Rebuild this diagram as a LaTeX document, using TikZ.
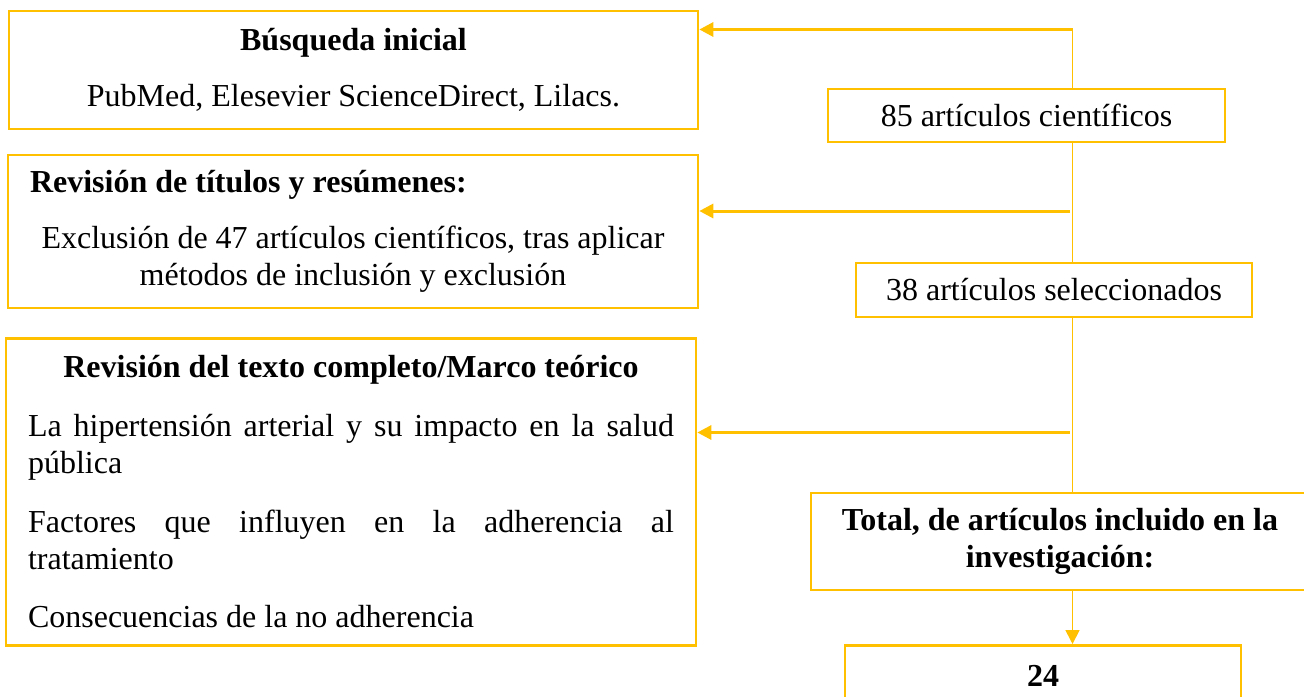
\documentclass[tikz,border=0pt]{standalone}
\usepackage{fontspec}
\setmainfont{Liberation Serif}
\usetikzlibrary{arrows.meta}
\definecolor{oro}{HTML}{FFC000}
\tikzset{>={Triangle[length=7pt,width=7pt]}}
\tikzset{
    caja/.style = {draw = oro, line width = 1.3pt, inner xsep = 11pt, inner ysep = 0pt,
        font = \fontsize{16}{18.4}\selectfont},
    cajatexto/.style = {caja, text width = #1,
        execute at begin node = {\setlength{\parindent}{0pt}\setlength{\parskip}{9.5pt}%
            \spaceskip=0pt \xspaceskip=0pt \hyphenpenalty=10000 \tolerance=9999 }},
    flecha/.style = {draw = oro, line width = 1.5pt, ->},
    linea/.style = {draw = oro, line width = 0.85pt}
}

\begin{document}
\begin{tikzpicture}[x = 0.5pt, y = -0.5pt]
    \useasboundingbox (0,0) rectangle (1304,696);
    \clip (0,0) rectangle (1304,696);
    % left column
    \node [cajatexto = 322.5pt, minimum height = 59pt] (busq) at (353.5,70)
        {{\centering{\bfseries Búsqueda inicial}\par PubMed, Elesevier ScienceDirect, Lilacs.\par}};
    \node [cajatexto = 323pt, minimum height = 76.5pt] (titul) at (353,231.5)
        {{\raggedright\bfseries Revisión de títulos y resúmenes:\par}%
         {\centering Exclusión de 47 artículos científicos, tras aplicar\\ métodos de inclusión y exclusión\par}};
    \node [cajatexto = 323pt, align = justify, minimum height = 153.5pt] (texto) at (351,492)
        {\setlength{\parskip}{11pt}%
         {\centering\bfseries Revisión del texto completo/Marco teórico\par}%
         \rightskip=0pt
         La hipertensión arterial y su impacto en la salud pública\par
         Factores que influyen en la adherencia al tratamiento\par
         Consecuencias de la no adherencia};
    % right column
    \node [caja, minimum width = 198.5pt, minimum height = 26.5pt] (cnt85) at (1026.5,115.5) {85 artículos científicos};
    \node [caja, minimum width = 198pt, minimum height = 27pt] (sel38) at (1054,290) {38 artículos seleccionados};
    \node [caja, align = center, minimum width = 249pt, minimum height = 48.5pt,
        font = \fontsize{16}{18.4}\selectfont\bfseries] (total) at (1060,541.5)
        {Total, de artículos incluido en la\\ investigación:};
    \node [caja, anchor = north, minimum width = 198pt, minimum height = 31pt,
        font = \fontsize{16}{18.4}\selectfont\bfseries] (res24) at (1043,644) {24};
    % connectors
    \coordinate (eje) at (1072.5,29.5);
    \coordinate (j2) at (1070,211);
    \coordinate (j3) at (1070,432.5);
    \draw [flecha] (eje) -- (eje -| busq.east);
    \draw [flecha] (j2) -- (j2 -| titul.east);
    \draw [flecha] (j3) -- (j3 -| texto.east);
    \draw [linea] (eje) -- (eje |- cnt85.north);
    \draw [linea] (eje |- cnt85.south) -- (eje |- sel38.north);
    \draw [linea] (eje |- sel38.south) -- (eje |- total.north);
    \draw [linea, ->] (eje |- total.south) -- (eje |- res24.north);
\end{tikzpicture}
\end{document}
